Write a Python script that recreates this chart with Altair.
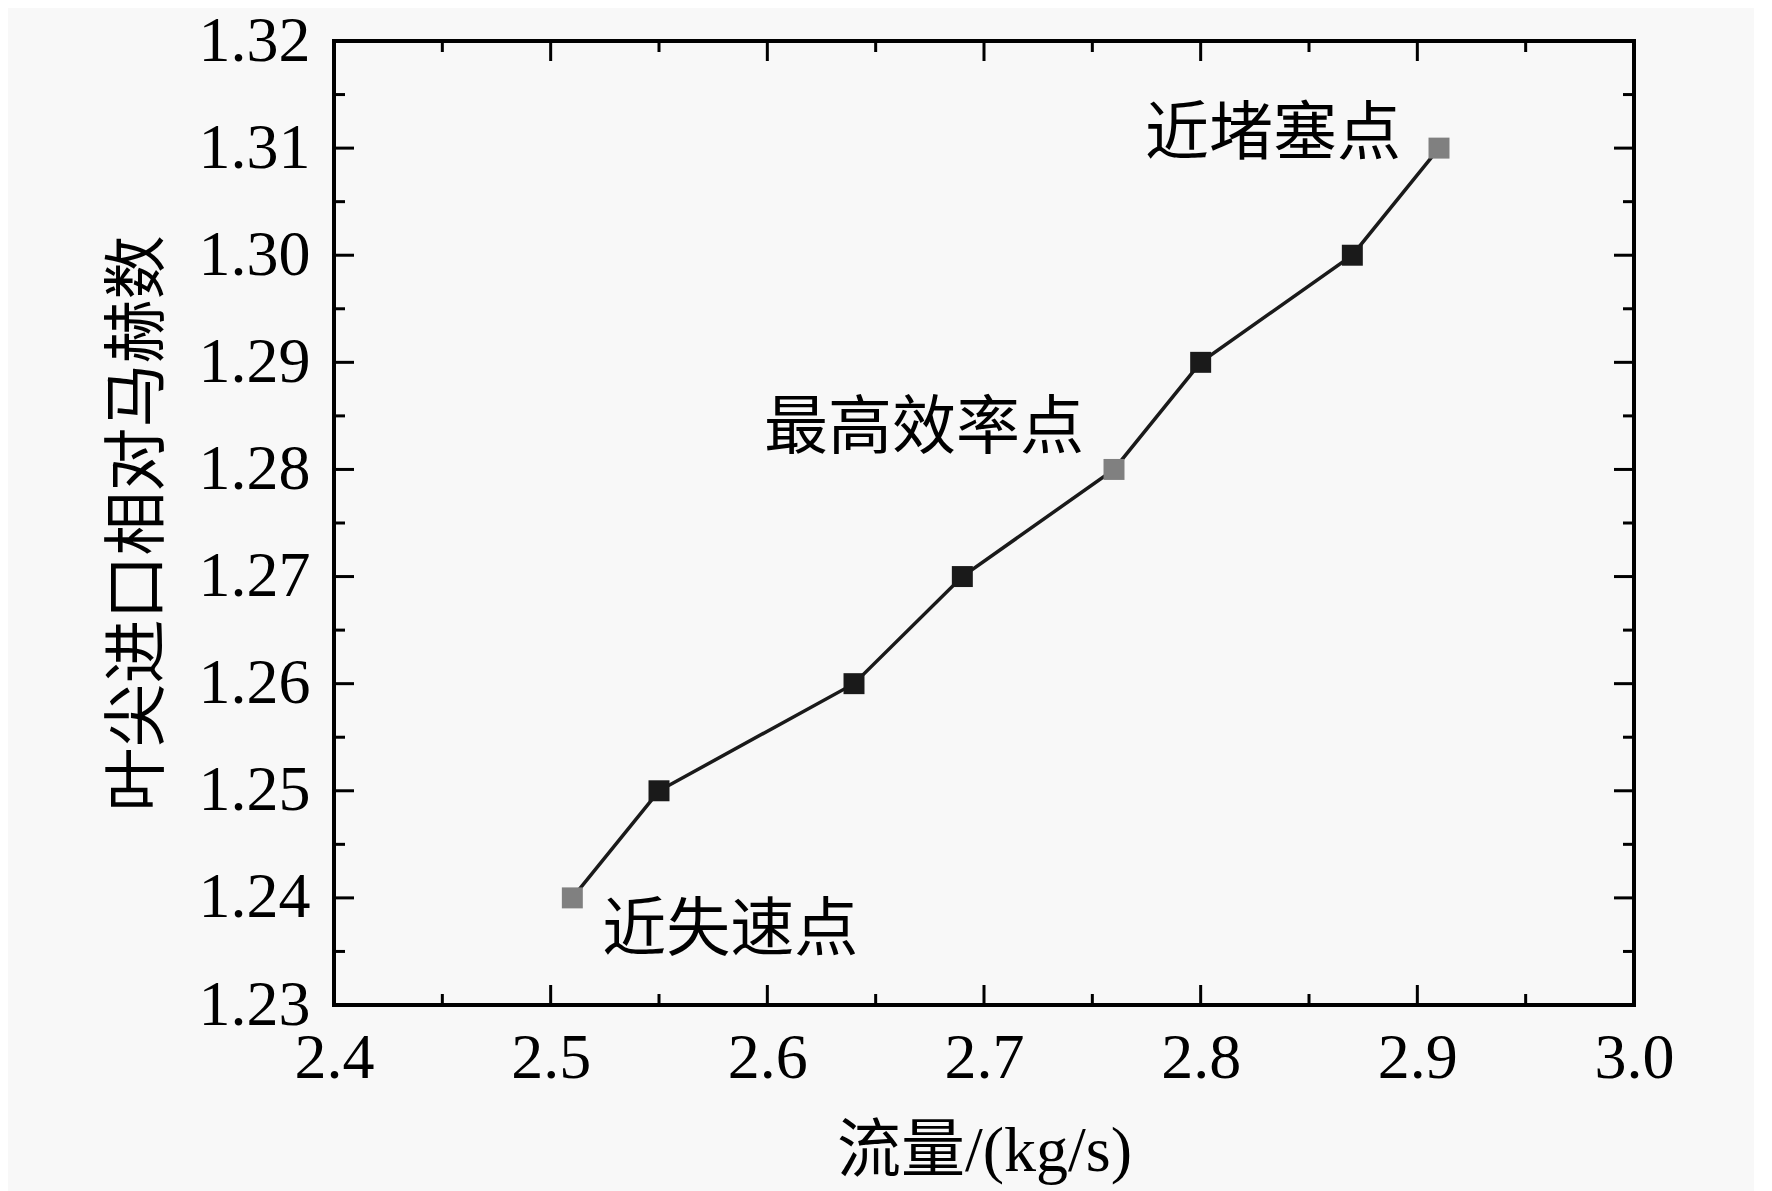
import altair as alt
import pandas as pd

# Data
flow = [2.51, 2.55, 2.64, 2.69, 2.76, 2.80, 2.87, 2.91]
mach = [1.24, 1.25, 1.26, 1.27, 1.28, 1.29, 1.30, 1.31]
kind = ["key", "normal", "normal", "normal", "key", "normal", "normal", "key"]

ann_labels = ["近失速点", "最高效率点", "近堵塞点"]
ann_x = [2.51, 2.76, 2.91]
ann_y = [1.24, 1.28, 1.31]

x_major = [2.4, 2.5, 2.6, 2.7, 2.8, 2.9, 3.0]
x_minor = [2.45, 2.55, 2.65, 2.75, 2.85, 2.95]
y_major = [1.23, 1.24, 1.25, 1.26, 1.27, 1.28, 1.29, 1.30, 1.31, 1.32]
y_minor = [1.235, 1.245, 1.255, 1.265, 1.275, 1.285, 1.295, 1.305, 1.315]

W, H = 1300, 964
FONT = "Liberation Serif, Times New Roman, Noto Sans CJK SC"
FS = 64
MAJ, MIN = 20, 11

df = pd.DataFrame({"x": flow, "y": mach, "kind": kind})
ann = pd.DataFrame({"x": ann_x, "y": ann_y, "label": ann_labels})
xmaj = pd.DataFrame({"x": x_major[1:-1]})
xmin = pd.DataFrame({"x": x_minor})
ymaj = pd.DataFrame({"y": y_major[1:-1]})
ymin = pd.DataFrame({"y": y_minor})

xscale = alt.Scale(domain=[2.4, 3.0], nice=False, zero=False)
yscale = alt.Scale(domain=[1.23, 1.32], nice=False, zero=False)

xaxis = alt.Axis(values=x_major, format=".1f", title="流量/(kg/s)", grid=False,
                 domain=False, ticks=False, labelFont=FONT, labelFontSize=FS,
                 labelColor="black", labelPadding=21, titleFont=FONT,
                 titleFontSize=FS, titleFontWeight="normal", titleColor="black",
                 titlePadding=29, labelFlush=False)
yaxis = alt.Axis(values=y_major, format=".2f", title="叶尖进口相对马赫数", grid=False,
                 domain=False, ticks=False, labelFont=FONT, labelFontSize=FS,
                 labelColor="black", labelPadding=24, titleFont=FONT,
                 titleFontSize=FS, titleFontWeight="normal", titleColor="black",
                 titlePadding=28, labelFlush=False)

X = lambda: alt.X("x:Q", scale=xscale, axis=xaxis)
Y = lambda: alt.Y("y:Q", scale=yscale, axis=yaxis)

line = alt.Chart(df).mark_line(color="#1a1a1a", strokeWidth=3.5).encode(x=X(), y=Y())
pts = alt.Chart(df).mark_square(size=440, opacity=1).encode(
    x=X(), y=Y(),
    color=alt.Color("kind:N", scale=alt.Scale(domain=["key", "normal"],
                                              range=["#808080", "#1a1a1a"]),
                    legend=None))

def txt(i, align, dx, dy):
    return alt.Chart(ann.iloc[[i]]).mark_text(
        align=align, baseline="middle", dx=dx, dy=dy, font=FONT, fontSize=FS,
        color="black").encode(x=X(), y=Y(), text="label:N")

t1 = txt(0, "left", 30, 33)
t2 = txt(1, "right", -30, -40)
t3 = txt(2, "right", -38, -13)

def xticks(d, L):
    b = alt.Chart(d).mark_rule(color="black", strokeWidth=3).encode(
        x=X(), y=alt.value(H), y2=alt.value(H - L))
    t = alt.Chart(d).mark_rule(color="black", strokeWidth=3).encode(
        x=X(), y=alt.value(0), y2=alt.value(L))
    return b + t

def yticks(d, L):
    l = alt.Chart(d).mark_rule(color="black", strokeWidth=3).encode(
        y=Y(), x=alt.value(0), x2=alt.value(L))
    r = alt.Chart(d).mark_rule(color="black", strokeWidth=3).encode(
        y=Y(), x=alt.value(W), x2=alt.value(W - L))
    return l + r

chart = alt.layer(
    xticks(xmaj, MAJ), xticks(xmin, MIN), yticks(ymaj, MAJ), yticks(ymin, MIN),
    line, pts, t1, t2, t3
).properties(
    width=W, height=H, background="#f8f8f8",
    padding={"left": 98, "top": 1, "right": 80, "bottom": 8}
).configure_view(stroke="black", strokeWidth=4)

chart.save("out.html", embed_options={"renderer": "svg", "actions": False})
